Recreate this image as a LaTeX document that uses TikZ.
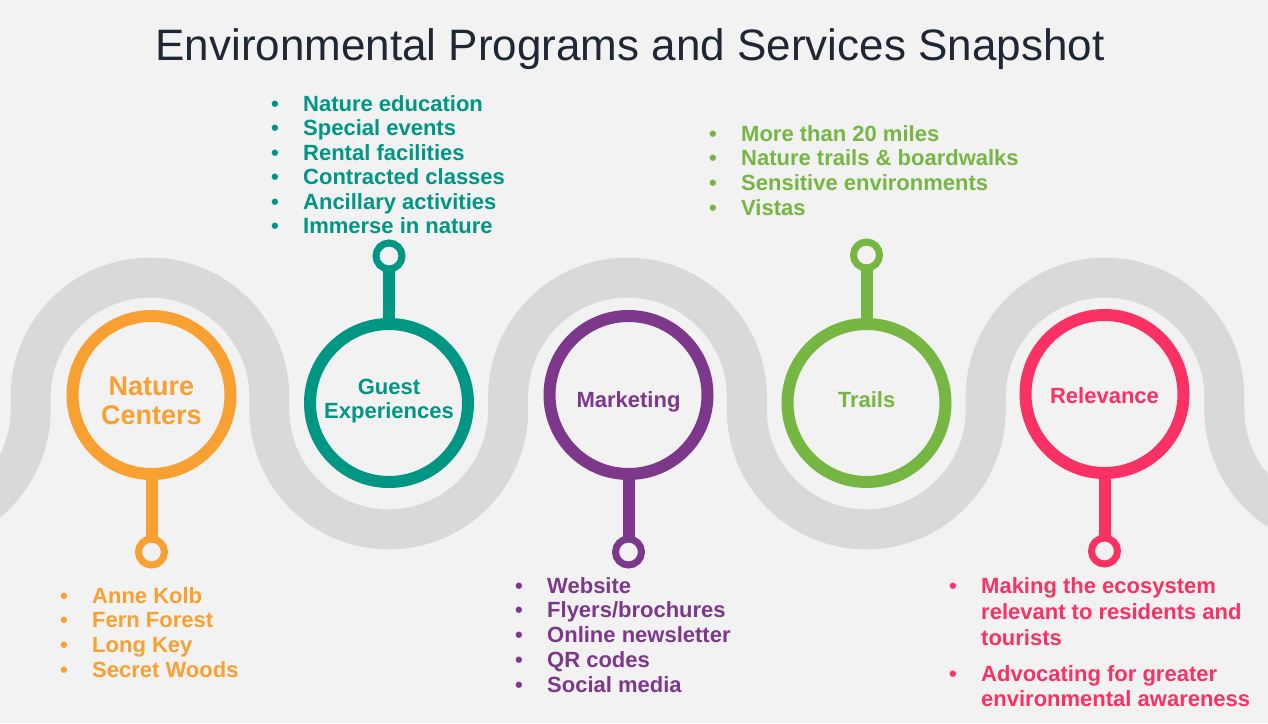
\documentclass[tikz,border=0pt]{standalone}
\usepackage{fontspec}
\setmainfont{Liberation Sans}
\usepackage{tikz}
\usetikzlibrary{positioning}
\definecolor{mybg}{RGB}{242,242,242}
\definecolor{myroad}{RGB}{217,217,217}
\definecolor{mydark}{RGB}{31,38,52}
\definecolor{myorange}{RGB}{248,160,50}
\definecolor{myteal}{RGB}{0,150,132}
\definecolor{mypurple}{RGB}{125,56,140}
\definecolor{mygreen}{RGB}{118,182,66}
\definecolor{mypink}{RGB}{250,50,100}
\newcommand{\lbul}{\makebox[32pt][l]{\textbullet}}
\newcommand{\lgap}{\hspace*{32pt}}
\tikzset{
  road/.style={draw=myroad, line width=40pt},
  hub/.style={circle, fill=mybg, line width=12pt,
    minimum size=158pt, inner sep=0pt},
  knob/.style={circle, fill=mybg, line width=7pt,
    minimum size=26pt, inner sep=0pt},
  stemline/.style={line width=12pt, shorten <=-3pt, shorten >=-3pt},
  hubtext/.style={font=\fontsize{22}{24}\selectfont\bfseries,
    align=center, anchor=base, inner sep=0pt},
  bitem/.style={font=\fontsize{22}{25}\selectfont\bfseries,
    anchor=base west, inner sep=0pt},
  titletext/.style={font=\fontsize{44}{50}\selectfont, text=mydark,
    anchor=base, inner sep=0pt}
}
\begin{document}
\begin{tikzpicture}[x=1pt, y=-1pt]
  \useasboundingbox (0,0) rectangle (1268,723);
  \clip (0,0) rectangle (1268,723);
  \fill[mybg] (0,0) rectangle (1268,723);

  % winding road
  \draw[road] (-208.125,410)
    arc[start angle=180, end angle=0, radius=119.375] -- ++(0,-13)
    arc[start angle=180, end angle=360, radius=119.375] -- ++(0,13)
    arc[start angle=180, end angle=0, radius=119.375] -- ++(0,-13)
    arc[start angle=180, end angle=360, radius=119.375] -- ++(0,13)
    arc[start angle=180, end angle=0, radius=119.375] -- ++(0,-13)
    arc[start angle=180, end angle=360, radius=119.375] -- ++(0,13)
    arc[start angle=180, end angle=0, radius=119.375];

  \node[titletext] (title) at (630,60) {Environmental Programs and Services Snapshot};

  \node[hub, draw=myorange] (c1) at (151.5,395) {};
  \node[hub, draw=myteal] (c2) at (389,403) {};
  \node[hub, draw=mypurple] (c3) at (628.5,395) {};
  \node[hub, draw=mygreen] (c4) at (866.5,403) {};
  \node[hub, draw=mypink] (c5) at (1104.5,394) {};

  \node[knob, draw=myorange] (k1) at (151.5,552) {};
  \node[knob, draw=myteal] (k2) at (389,256) {};
  \node[knob, draw=mypurple] (k3) at (628.5,552) {};
  \node[knob, draw=mygreen] (k4) at (866.5,255) {};
  \node[knob, draw=mypink] (k5) at (1104.5,551) {};

  \draw[stemline, myorange] (c1) -- (k1);
  \draw[stemline, myteal] (c2) -- (k2);
  \draw[stemline, mypurple] (c3) -- (k3);
  \draw[stemline, mygreen] (c4) -- (k4);
  \draw[stemline, mypink] (c5) -- (k5);

  \node[hubtext, text=myorange, anchor=center,
    font=\fontsize{27}{29}\selectfont\bfseries] (c1t) at (151.5,400.5) {Nature\\Centers};
  \node[hubtext, text=myteal, anchor=center] (c2t) at (389,401.3) {Guest\\Experiences};
  \node[hubtext, text=mypurple] (c3t) at (628.5,407) {Marketing};
  \node[hubtext, text=mygreen] (c4t) at (866.5,407) {Trails};
  \node[hubtext, text=mypink] (c5t) at (1104.5,403) {Relevance};

  \foreach \t [count=\i from 0] in {Anne Kolb, Fern Forest, Long Key, Secret Woods}
    \node[bitem, text=myorange] (o\i) at (60,603+24.7*\i) {\lbul\t};
  \foreach \t [count=\i from 0] in {Nature education, Special events, Rental facilities,
      Contracted classes, Ancillary activities, Immerse in nature}
    \node[bitem, text=myteal] (g\i) at (271,111+24.5*\i) {\lbul\t};
  \foreach \t [count=\i from 0] in {Website, Flyers/brochures, Online newsletter,
      QR codes, Social media}
    \node[bitem, text=mypurple] (m\i) at (515,593+24.8*\i) {\lbul\t};
  \foreach \t [count=\i from 0] in {More than 20 miles, Nature trails \& boardwalks,
      Sensitive environments, Vistas}
    \node[bitem, text=mygreen] (t\i) at (709,141+24.7*\i) {\lbul\t};
  \foreach \y/\t [count=\i from 0] in {593/\lbul Making the ecosystem,
      619/\lgap relevant to residents and, 645/\lgap tourists,
      681/\lbul Advocating for greater, 706/\lgap environmental awareness}
    \node[bitem, text=mypink] (r\i) at (949,\y) {\t};
\end{tikzpicture}
\end{document}
